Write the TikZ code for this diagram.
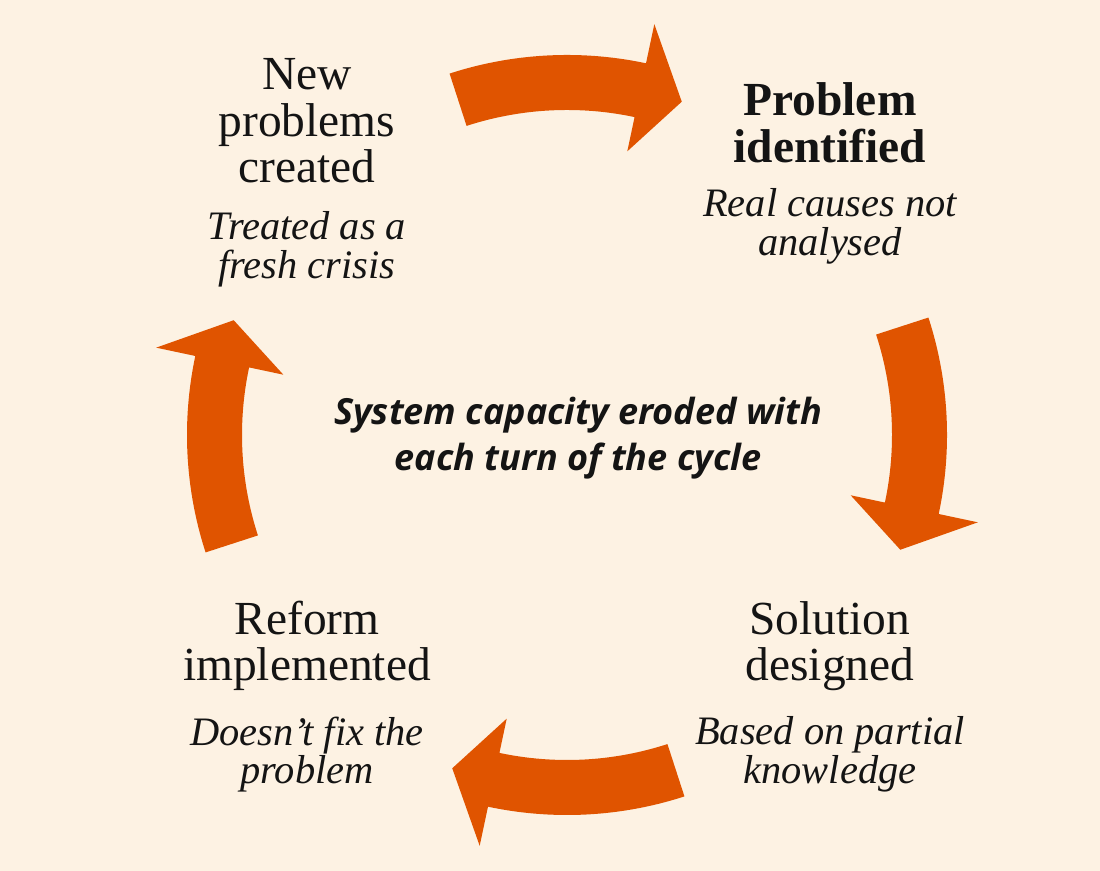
\documentclass[tikz,border=0pt]{standalone}
\usepackage{fontspec}
\setmainfont{Liberation Serif}
\newfontfamily\centrefont{Open Sans}
\usetikzlibrary{positioning}
\definecolor{cream}{HTML}{FDF2E3}
\definecolor{burnt}{HTML}{E05400}
\definecolor{ink}{HTML}{141414}
\tikzstyle{stage}=[align=center,text=ink,inner sep=0,font=\fontsize{27}{26.5}\selectfont]
\tikzstyle{note}=[align=center,text=ink,inner sep=0,font=\fontsize{23}{22}\selectfont\itshape]
\tikzstyle{flow}=[fill=burnt,draw=none]
% curved block arrow: tail angle #1, head base #2, tip #3
\newcommand{\cyclearrow}[3]{%
  \fill [flow] (#1:6.5cm) arc[start angle=#1,end angle=#2,radius=6.5cm]
    -- (#2:5.8cm) -- (#3:7.05cm) -- (#2:8.4cm) -- (#2:7.6cm)
    arc[start angle=#2,end angle=#1,radius=7.6cm] -- cycle;}
\begin{document}
\begin{tikzpicture}
  \fill [cream] (0,0) rectangle (22,17.42);
  \useasboundingbox (0,0) rectangle (22,17.42);

  % arrows round the cycle
  \begin{scope}[shift={(11.34,8.72)}]
    \cyclearrow{108}{78}{71}
    \cyclearrow{18}{-12}{-19}
    \cyclearrow{-72}{-102}{-109}
    \cyclearrow{198}{168}{161}
  \end{scope}

  % stages
  \node [stage] (newprob) at (6.14,15.0) {New\\problems\\created};
  \node [note,below=0.55cm of newprob] (newnote) {Treated as a\\fresh crisis};
  \node [stage,font=\fontsize{27}{26.5}\selectfont\bfseries] (identified) at (16.6,14.96)
    {Problem\\identified};
  \node [note,below=0.5cm of identified] (idnote) {Real causes not\\analysed};
  \node [stage] (designed) at (16.6,4.5) {Solution\\designed};
  \node [note,below=0.5cm of designed] (desnote) {Based on partial\\knowledge};
  \node [stage] (reform) at (6.14,4.5) {Reform\\implemented};
  \node [note,below=0.5cm of reform] (refnote) {Doesn't fix the\\problem};

  % centre
  \node [align=center,text=ink,inner sep=0,
    font=\centrefont\fontsize{20.5}{26.5}\selectfont\bfseries\itshape]
    (capacity) at (11.56,8.66) {System capacity eroded with\\each turn of the cycle};
\end{tikzpicture}
\end{document}
